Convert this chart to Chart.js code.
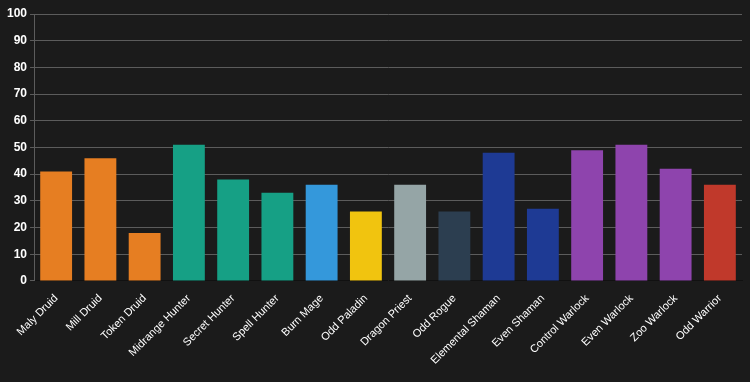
<!DOCTYPE html>
<html>
<head>
<meta charset="utf-8">
<script src="https://cdn.jsdelivr.net/npm/chart.js@4"></script>
<style>
  html, body { margin: 0; padding: 0; background: #1b1b1b; }
  #wrap { width: 750px; height: 382px; }
</style>
</head>
<body>
<div id="wrap"><canvas id="deckChart"></canvas></div>
<script>
// deck win rates
const decks = ['Maly Druid', 'Mill Druid', 'Token Druid', 'Midrange Hunter', 'Secret Hunter',
  'Spell Hunter', 'Burn Mage', 'Odd Paladin', 'Dragon Priest', 'Odd Rogue', 'Elemental Shaman',
  'Even Shaman', 'Control Warlock', 'Even Warlock', 'Zoo Warlock', 'Odd Warrior'];
const values = [41, 46, 18, 51, 38, 33, 36, 26, 36, 26, 48, 27, 49, 51, 42, 36];
const colors = ['#e67e22', '#e67e22', '#e67e22', '#16a085', '#16a085', '#16a085', '#3498db',
  '#f1c40f', '#95a5a6', '#2c3e50', '#1e3a94', '#1e3a94', '#8e44ad', '#8e44ad', '#8e44ad', '#c0392b'];

Chart.defaults.font.family = "'Liberation Sans', Arial, sans-serif";
Chart.defaults.color = '#ffffff';

new Chart(document.getElementById('deckChart'), {
  type: 'bar',
  data: {
    labels: decks,
    datasets: [{
      data: values,
      backgroundColor: colors,
      borderColor: colors,
      borderWidth: 0,
      barPercentage: 0.72,
      categoryPercentage: 1
    }]
  },
  options: {
    responsive: true,
    maintainAspectRatio: false,
    animation: false,
    layout: { padding: { top: 14, right: 8, left: 4, bottom: 12 } },
    plugins: { legend: { display: false }, tooltip: { enabled: false } },
    scales: {
      x: {
        grid: { display: false },
        border: { color: '#111111' },
        ticks: { maxRotation: 45, minRotation: 45, font: { size: 11 }, color: '#ffffff' }
      },
      y: {
        min: 0,
        max: 100,
        ticks: { stepSize: 10, font: { size: 12, weight: 'bold' }, color: '#ffffff' },
        grid: { color: '#5c5c5c', tickLength: 4 },
        border: { color: '#5c5c5c' }
      }
    }
  }
});
</script>
</body>
</html>
